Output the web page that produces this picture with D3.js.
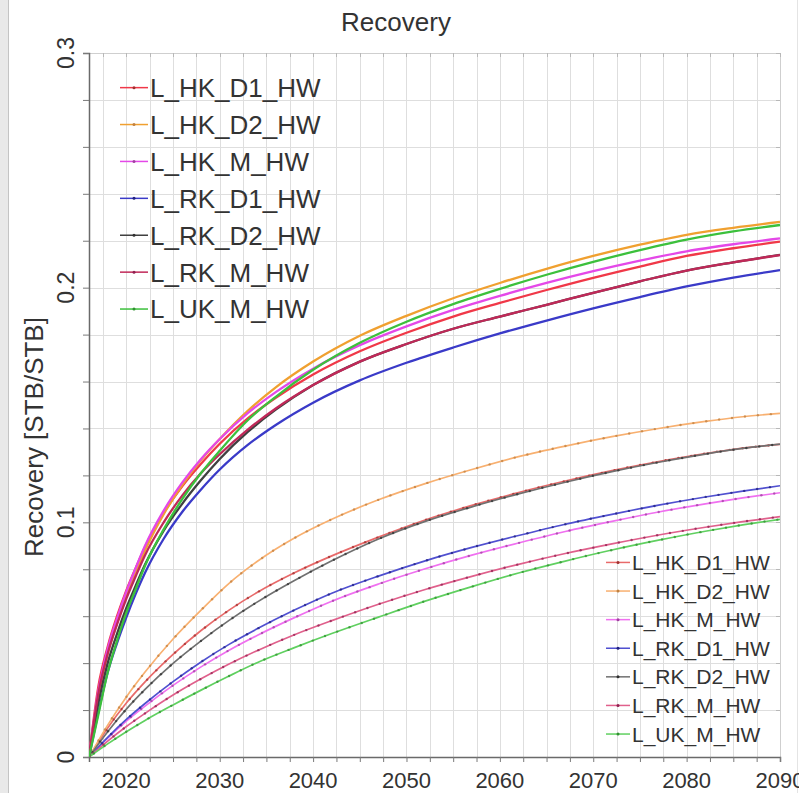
<!DOCTYPE html>
<html>
<head>
<meta charset="utf-8">
<script src="https://cdn.jsdelivr.net/npm/d3@7/dist/d3.min.js"></script>
<style>
  html, body { margin: 0; padding: 0; background: #fff; overflow: hidden; }
  svg { display: block; font-family: "Liberation Sans", Arial, sans-serif; }
</style>
</head>
<body>
<svg id="chart" width="799" height="793"></svg>
<script>
// ---- data -------------------------------------------------------------
const seriesNames = ["L_HK_D1_HW", "L_HK_D2_HW", "L_HK_M_HW", "L_RK_D1_HW", "L_RK_D2_HW", "L_RK_M_HW", "L_UK_M_HW"];

// fast-rising cases (solid lines)
const fastYears = [2016, 2017, 2018, 2019, 2020, 2021, 2022, 2024, 2026, 2028, 2030, 2033, 2036, 2040, 2045, 2050, 2055, 2060, 2065, 2070, 2075, 2080, 2085, 2090];
const fastHK_D1 = [0, 0.030, 0.047, 0.060, 0.071, 0.0805, 0.0895, 0.104, 0.1155, 0.125, 0.1335, 0.1443, 0.1531, 0.163, 0.1729, 0.1808, 0.1877, 0.1935, 0.199, 0.2042, 0.209, 0.2135, 0.2168, 0.2196];
const fastHK_D2 = [0, 0.026, 0.044, 0.057, 0.0685, 0.0785, 0.088, 0.1035, 0.116, 0.1265, 0.1355, 0.1475, 0.1575, 0.1685, 0.1795, 0.188, 0.1955, 0.202, 0.208, 0.2135, 0.2183, 0.2225, 0.2255, 0.228];
const fastHK_M  = [0, 0.028, 0.046, 0.059, 0.0705, 0.0805, 0.090, 0.105, 0.117, 0.127, 0.1355, 0.1465, 0.1555, 0.1655, 0.1755, 0.1835, 0.1905, 0.1965, 0.202, 0.207, 0.2115, 0.2155, 0.2185, 0.221];
const fastRK_D1 = [0, 0.019, 0.036, 0.0485, 0.0595, 0.0695, 0.0785, 0.093, 0.1045, 0.114, 0.1225, 0.133, 0.1415, 0.151, 0.1605, 0.168, 0.1745, 0.1805, 0.186, 0.1912, 0.196, 0.2005, 0.2043, 0.2075];
const fastRK_D2 = [0, 0.023, 0.040, 0.0525, 0.0635, 0.073, 0.082, 0.0965, 0.108, 0.118, 0.127, 0.1385, 0.148, 0.1585, 0.1685, 0.176, 0.1825, 0.1877, 0.1927, 0.1978, 0.2027, 0.2073, 0.2108, 0.214];
const fastRK_M  = [0, 0.027, 0.044, 0.0565, 0.0675, 0.077, 0.086, 0.100, 0.1115, 0.121, 0.129, 0.1395, 0.1485, 0.1585, 0.1685, 0.176, 0.1825, 0.1877, 0.1927, 0.1978, 0.2027, 0.2073, 0.2108, 0.2139];
const fastUK_M  = [0, 0.018, 0.036, 0.0495, 0.0615, 0.0715, 0.0815, 0.097, 0.110, 0.121, 0.1305, 0.1435, 0.1535, 0.165, 0.1765, 0.1855, 0.193, 0.1995, 0.2055, 0.211, 0.216, 0.2205, 0.224, 0.2267];

// slow-rising cases (thin lines with markers)
const slowYears = [2016, 2018, 2020, 2022, 2025, 2028, 2031, 2034, 2038, 2042, 2047, 2052, 2057, 2062, 2067, 2072, 2077, 2082, 2086, 2090];
const slowHK_D1 = [0, 0.0124, 0.0230, 0.0320, 0.0437, 0.0539, 0.0626, 0.0701, 0.0785, 0.0857, 0.0937, 0.1010, 0.1072, 0.1127, 0.1176, 0.1220, 0.1259, 0.1293, 0.1316, 0.1332];
const slowHK_D2 = [0, 0.0136, 0.0256, 0.0362, 0.0503, 0.0626, 0.0740, 0.0833, 0.0933, 0.1013, 0.1096, 0.1165, 0.1225, 0.1280, 0.1325, 0.1365, 0.1400, 0.1430, 0.1450, 0.1464];
const slowHK_M  = [0, 0.0080, 0.0153, 0.0217, 0.0305, 0.0384, 0.0455, 0.0518, 0.0594, 0.0664, 0.0737, 0.0802, 0.0860, 0.0912, 0.0961, 0.1004, 0.1044, 0.1079, 0.1104, 0.1126];
const slowRK_D1 = [0, 0.0084, 0.0160, 0.0228, 0.0321, 0.0405, 0.0480, 0.0546, 0.0626, 0.0698, 0.0771, 0.0836, 0.0893, 0.0944, 0.0992, 0.1034, 0.1073, 0.1108, 0.1133, 0.1156];
const slowRK_D2 = [0, 0.0108, 0.0204, 0.0288, 0.0399, 0.0495, 0.0582, 0.0660, 0.0752, 0.0836, 0.0929, 0.1004, 0.1066, 0.1121, 0.1171, 0.1216, 0.1256, 0.1291, 0.1315, 0.1333];
const slowRK_M  = [0, 0.0068, 0.0130, 0.0186, 0.0264, 0.0333, 0.0396, 0.0453, 0.0521, 0.0581, 0.0651, 0.0714, 0.0770, 0.0821, 0.0867, 0.0908, 0.0946, 0.0979, 0.1003, 0.1024];
const slowUK_M  = [0, 0.0056, 0.0108, 0.0156, 0.0222, 0.0285, 0.0345, 0.0402, 0.0466, 0.0526, 0.0596, 0.0664, 0.0726, 0.0784, 0.0835, 0.0882, 0.0924, 0.0962, 0.0989, 0.1013];

const xTickYears = [2020, 2030, 2040, 2050, 2060, 2070, 2080, 2090];
const yTickValues = [0, 0.1, 0.2, 0.3];
const yTickLabels = ["0", "0.1", "0.2", "0.3"];

// ---- styling ----------------------------------------------------------
const fastColors = ["#f03848", "#f0a030", "#e448e8", "#3a3ac8", "#404040", "#c02858", "#3cc03c"];
const slowColors = ["#e86a6a", "#f8b070", "#f070f0", "#5050d0", "#707070", "#e0608c", "#60d060"];
const markColors = ["#a03030", "#c08040", "#a040a0", "#202080", "#303030", "#902050", "#309030"];

const fastData = [fastHK_D1, fastHK_D2, fastHK_M, fastRK_D1, fastRK_D2, fastRK_M, fastUK_M];
const slowData = [slowHK_D1, slowHK_D2, slowHK_M, slowRK_D1, slowRK_D2, slowRK_M, slowUK_M];

const svg = d3.select("#chart");
const plot = { left: 89, right: 780, top: 53, bottom: 757 };

const x = d3.scaleLinear().domain([2016, 2090]).range([plot.left, plot.right]);
const y = d3.scaleLinear().domain([0, 0.3]).range([plot.bottom, plot.top]);

svg.append("rect").attr("width", 799).attr("height", 793).attr("fill", "#fff");

// window frame on the left and right
svg.append("rect").attr("x", 0).attr("y", 0).attr("width", 8).attr("height", 793).attr("fill", "#e9e9e9");
svg.append("line").attr("x1", 8.5).attr("x2", 8.5).attr("y1", 0).attr("y2", 793).attr("stroke", "#c4c4c4");
svg.append("line").attr("x1", 797.5).attr("x2", 797.5).attr("y1", 0).attr("y2", 793).attr("stroke", "#e4e4e4");

// grid
const xGrid = d3.range(2017.5, 2090.01, 2.5);
const yGrid = d3.range(0.02, 0.3001, 0.02);
const grid = svg.append("g").attr("stroke", "#dedede").attr("stroke-width", 1);
grid.selectAll("line.gx").data(xGrid).join("line")
  .attr("x1", d => Math.round(x(d)) + 0.5).attr("x2", d => Math.round(x(d)) + 0.5)
  .attr("y1", plot.top).attr("y2", plot.bottom);
grid.selectAll("line.gy").data(yGrid).join("line")
  .attr("y1", d => Math.round(y(d)) + 0.5).attr("y2", d => Math.round(y(d)) + 0.5)
  .attr("x1", plot.left).attr("x2", plot.right);

// frame: top and right edges are light with small ticks
svg.append("line").attr("x1", plot.left).attr("x2", plot.right).attr("y1", plot.top + 0.5).attr("y2", plot.top + 0.5).attr("stroke", "#cfcfcf");
svg.append("line").attr("x1", plot.right + 0.5).attr("x2", plot.right + 0.5).attr("y1", plot.top).attr("y2", plot.bottom).attr("stroke", "#cfcfcf");
svg.append("g").selectAll("line").data(xGrid).join("line")
  .attr("x1", d => Math.round(x(d)) + 0.5).attr("x2", d => Math.round(x(d)) + 0.5)
  .attr("y1", plot.top).attr("y2", plot.top + 4).attr("stroke", "#b8b8b8");
svg.append("g").selectAll("line").data(yGrid).join("line")
  .attr("y1", d => Math.round(y(d)) + 0.5).attr("y2", d => Math.round(y(d)) + 0.5)
  .attr("x1", plot.right - 4).attr("x2", plot.right).attr("stroke", "#b8b8b8");

// axes
const xAxis = d3.axisBottom(x).tickValues(d3.range(2017.5, 2090.01, 2.5)).tickSize(5).tickFormat("");
const yAxis = d3.axisLeft(y).tickValues(d3.range(0, 0.3001, 0.02)).tickSize(6).tickFormat("");
const gx = svg.append("g").attr("transform", `translate(0,${plot.bottom})`).call(xAxis);
const gy = svg.append("g").attr("transform", `translate(${plot.left},0)`).call(yAxis);
[gx, gy].forEach(g => {
  g.select(".domain").attr("stroke", "#6a6a6a").attr("stroke-width", 1.5);
  g.selectAll(".tick line").attr("stroke", "#7a7a7a");
});

// tick labels
svg.append("g").selectAll("text").data(xTickYears).join("text")
  .attr("x", d => x(d)).attr("y", 788)
  .attr("text-anchor", "middle").attr("font-size", 22).attr("fill", "#333")
  .text(d => d);
svg.append("g").selectAll("text").data(yTickValues).join("text")
  .attr("transform", d => `translate(74,${y(d)}) rotate(-90)`)
  .attr("text-anchor", "middle").attr("font-size", 23).attr("fill", "#333")
  .text((d, i) => yTickLabels[i]);

// titles
svg.append("text").attr("x", 396).attr("y", 31).attr("text-anchor", "middle")
  .attr("font-size", 26).attr("fill", "#333").text("Recovery");
svg.append("text").attr("transform", "translate(43,437) rotate(-90)").attr("text-anchor", "middle")
  .attr("font-size", 26).attr("fill", "#333").text("Recovery [STB/STB]");

// curves
const line = years => d3.line()
  .x((d, i) => x(years[i]))
  .y(d => y(d))
  .curve(d3.curveMonotoneX);

svg.append("clipPath").attr("id", "plotclip").append("rect")
  .attr("x", plot.left).attr("y", plot.top).attr("width", plot.right - plot.left).attr("height", plot.bottom - plot.top);

const slowG = svg.append("g").attr("clip-path", "url(#plotclip)");
slowData.forEach((vals, k) => {
  const p = slowG.append("path").datum(vals)
    .attr("d", line(slowYears))
    .attr("fill", "none").attr("stroke", slowColors[k]).attr("stroke-width", 1.7);
  // markers spaced evenly along the drawn curve
  const node = p.node();
  const len = node.getTotalLength();
  const pts = d3.range(6, len, 13).map(l => node.getPointAtLength(l));
  slowG.append("g").selectAll("circle").data(pts).join("circle")
    .attr("cx", d => d.x).attr("cy", d => d.y).attr("r", 1.2)
    .attr("fill", markColors[k]).attr("opacity", 0.75);
});

const fastG = svg.append("g").attr("clip-path", "url(#plotclip)");
fastData.forEach((vals, k) => {
  fastG.append("path").datum(vals)
    .attr("d", line(fastYears))
    .attr("fill", "none").attr("stroke", fastColors[k]).attr("stroke-width", 2.3);
});

// legends
function legend(opts, colors, marks) {
  const g = svg.append("g");
  seriesNames.forEach((name, i) => {
    const by = opts.y0 + i * opts.dy;
    const cy = by - opts.size * 0.36;
    g.append("line").attr("x1", opts.x0).attr("x2", opts.x0 + opts.len)
      .attr("y1", cy).attr("y2", cy).attr("stroke", colors[i]).attr("stroke-width", 1.5);
    g.append("circle").attr("cx", opts.x0 + opts.len / 2).attr("cy", cy).attr("r", 1.5).attr("fill", marks[i]);
    g.append("text").attr("x", opts.x0 + opts.len + 2).attr("y", by)
      .attr("font-size", opts.size).attr("fill", "#333").text(name);
  });
}
legend({ x0: 120, y0: 97, dy: 36.9, size: 26, len: 28 }, fastColors, markColors);
legend({ x0: 606, y0: 570, dy: 28.6, size: 21, len: 24 }, slowColors, markColors);
</script>
</body>
</html>
